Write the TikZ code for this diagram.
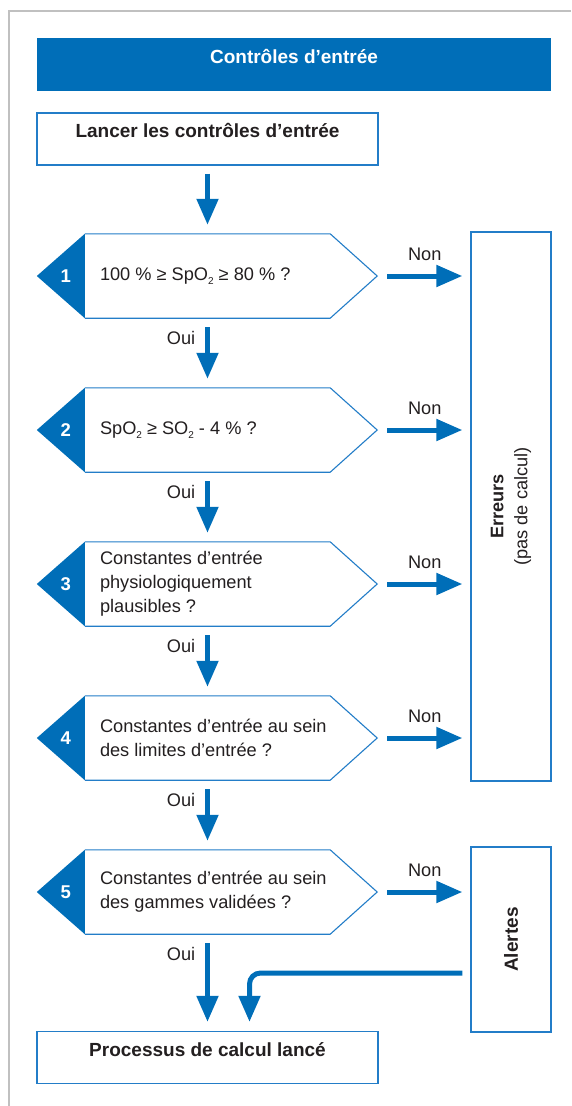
\documentclass[tikz,border=0pt]{standalone}
\usepackage{fontspec}
\setmainfont{Liberation Sans}
\usetikzlibrary{arrows.meta,calc}

\definecolor{rblue}{RGB}{0,110,184}
\definecolor{lineblue}{RGB}{35,125,200}
\definecolor{framegray}{RGB}{192,192,192}
\definecolor{txt}{RGB}{35,31,32}

% small lowered "2" for SpO2 / SO2
\newcommand\subtwo{\raisebox{-4pt}{\fontsize{10}{10}\selectfont 2}}

% one numbered check: name, vertical position, number, question
\newcommand\qstep[4]{%
  \node[hexarea] (#1) at (231,#2) {};
  \path[hexline] (#1.north west) -- ([xshift=-47pt]#1.north east) -- (#1.east)
     -- ([xshift=-47pt]#1.south east) -- (#1.south west);
  \fill[rblue] (#1.north west) -- ([xshift=-48pt]#1.west) -- (#1.south west) -- cycle;
  \node[num] at ([xshift=-19pt]#1.west) {#3};
  \node[qtext] at ([xshift=15pt]#1.west) {#4};
}

\begin{document}
\begin{tikzpicture}[x=1pt,y=-1pt,
  every node/.style={text=txt, font=\fontsize{18.2}{24}\selectfont},
  box/.style={draw=lineblue, line width=1.3pt, fill=white, minimum width=341pt,
              minimum height=52pt, inner sep=0pt},
  sidebox/.style={draw=lineblue, line width=1.3pt, minimum width=80pt, inner sep=0pt},
  hexarea/.style={minimum width=292pt, minimum height=84pt, inner sep=0pt},
  hexline/.style={draw=lineblue, line width=1.1pt, fill=white},
  flow/.style={draw=rblue, line width=5pt, -{Triangle[width=21pt,length=26pt]}},
  num/.style={text=white, font=\fontsize{18.5}{20}\selectfont\bfseries},
  qtext/.style={anchor=west, align=left, inner sep=0pt},
  lbl/.style={inner sep=0pt},
  bold/.style={font=\fontsize{19}{24}\selectfont\bfseries}
]
\useasboundingbox (0,0) rectangle (571,1106);

% page frame
\draw[framegray, line width=1.5pt] (9,1106) -- (9,11) -- (571,11);

% heading bar
\node[fill=rblue, minimum width=514pt, minimum height=53pt, inner sep=0pt] (title) at (294,64.5) {};
\node[bold, text=white, anchor=base] at ([yshift=1.5pt]title.center) {Contrôles d’entrée};

% start box
\node[box] (start) at (207.5,139) {};
\node[bold, anchor=base] at ([yshift=1.5pt]start.center) {Lancer les contrôles d’entrée};
\coordinate (spine) at (start.south);

% checks
\qstep{h1}{276}{1}{100 \% ≥ SpO\subtwo{} ≥ 80 \% ?}
\qstep{h2}{430}{2}{SpO\subtwo{} ≥ SO\subtwo{} - 4 \% ?}
\qstep{h3}{584}{3}{Constantes d’entrée\\physiologiquement\\plausibles ?}
\qstep{h4}{738}{4}{Constantes d’entrée au sein\\des limites d’entrée ?}
\qstep{h5}{892}{5}{Constantes d’entrée au sein\\des gammes validées ?}

% outcome boxes
\node[sidebox, minimum height=549pt] (err) at (511,506.5) {};
\node[rotate=90, align=center] at (err.center) {\textbf{Erreurs}\\(pas de calcul)};
\node[sidebox, minimum height=185pt] (alert) at (511,939.5) {};
\node[bold, rotate=90] at (alert.center) {Alertes};

% end box
\node[box] (proc) at (207.5,1057.5) {};
\node[bold, anchor=base] at ([yshift=1.5pt]proc.center) {Processus de calcul lancé};

% main flow
\draw[flow] ($(start.south)+(0pt,-8pt)$) -- ($(h1.north -| spine)+(0pt,9pt)$);
\draw[flow] ($(h1.south -| spine)+(0pt,-9pt)$) -- ($(h2.north -| spine)+(0pt,9pt)$);
\draw[flow] ($(h2.south -| spine)+(0pt,-9pt)$) -- ($(h3.north -| spine)+(0pt,9pt)$);
\draw[flow] ($(h3.south -| spine)+(0pt,-9pt)$) -- ($(h4.north -| spine)+(0pt,9pt)$);
\draw[flow] ($(h4.south -| spine)+(0pt,-9pt)$) -- ($(h5.north -| spine)+(0pt,9pt)$);
\draw[flow] ($(h5.south -| spine)+(0pt,-9pt)$) -- ($(proc.north)+(0pt,9pt)$);

% "Oui" labels
\foreach \h in {h1,h2,h3,h4,h5}
  \node[lbl] at ($(\h.south -| spine)+(-26.5pt,-20pt)$) {Oui};

% "Non" branches
\foreach \h/\t in {h1/err,h2/err,h3/err,h4/err,h5/alert}
  \draw[flow] ($(\h.east)+(10pt,0pt)$) -- ($(\h.east -| \t.west)+(-8pt,0pt)$)
    node[lbl, midway, above=15.5pt, anchor=base] {Non};

% alerts still lead to the calculation
\draw[flow, rounded corners=11pt] ($(alert.west)+(-8pt,-33.5pt)$) -| ($(proc.north)+(42pt,9pt)$);
\end{tikzpicture}
\end{document}
